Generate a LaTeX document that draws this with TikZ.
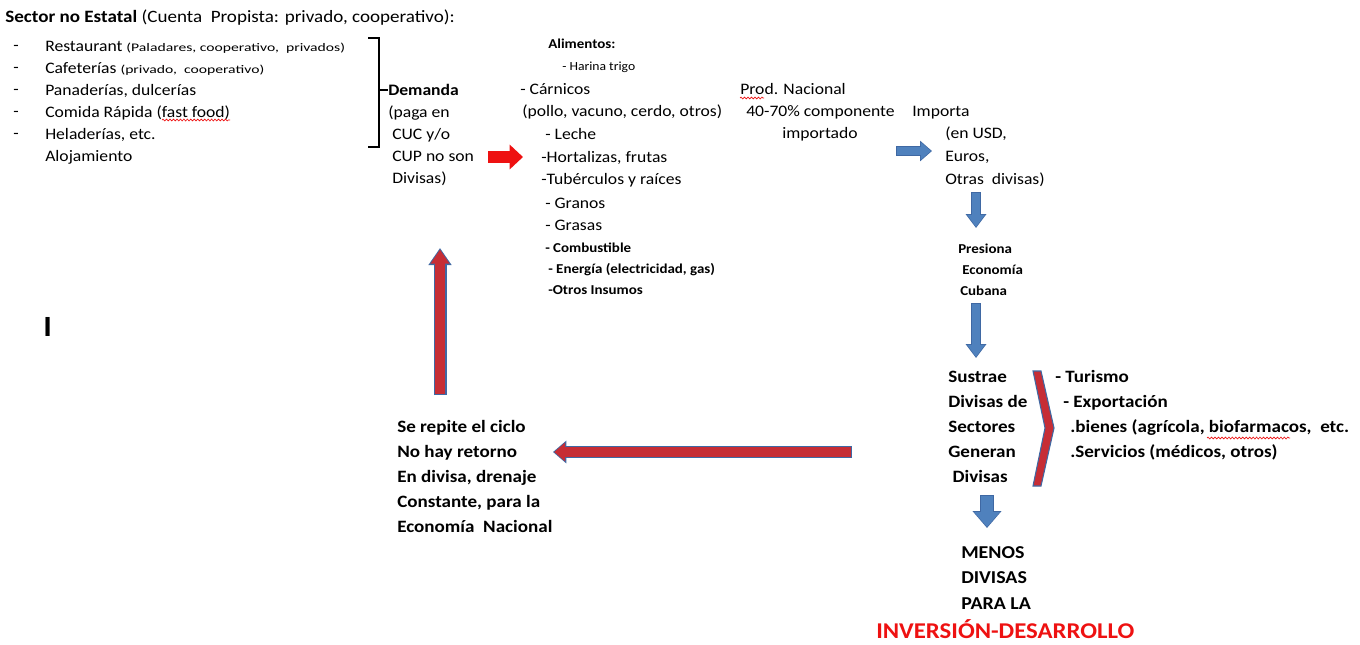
\documentclass[tikz,border=0pt]{standalone}
\usepackage{fontspec}
\setmainfont{Carlito}[FakeStretch=1.1]
\newfontfamily\anchafont{Carlito}[FakeStretch=1.35]
\usetikzlibrary{arrows.meta,decorations.pathmorphing}
\definecolor{rojo}{HTML}{C62D35}
\definecolor{rojovivo}{HTML}{EE1111}
\definecolor{azul}{HTML}{4F81BD}
\definecolor{azulosc}{HTML}{3F68A3}
\newcommand{\letrachica}{\anchafont\fontsize{8.7}{10}\selectfont}
\tikzset{
  txt/.style={anchor=base west, inner sep=0pt, align=left, font=\fontsize{12}{16.5}\selectfont},
  chico/.style={txt, font=\fontsize{9.3}{12}\selectfont},
  chiconeg/.style={txt, font=\fontsize{10.2}{12}\selectfont\bfseries},
  neg/.style={txt, font=\fontsize{13}{18.75}\selectfont\bfseries},
  onda/.style={rojovivo, line width=0.5pt, decorate, decoration={snake, amplitude=0.7pt, segment length=2.6pt}},
}
\begin{document}
\begin{tikzpicture}[x=0.75pt,y=-0.75pt]
\fill[white] (0,0) rectangle (1360,644);
\useasboundingbox (0,0) rectangle (1360,644);
%% sector no estatal
\node[txt, font=\fontsize{13}{15}\selectfont] (titulo) at (5,22) {\textbf{Sector no Estatal} (Cuenta\ \ Propista: privado, cooperativo):};
\foreach \y in {46,68,90,112,134}
  \node[txt] (guion\y) at (13,\y+4) {-};
% base = ultima linea
\node[txt] (lista) at (45,161) {Restaurant {\letrachica (Paladares, cooperativo,\ \ privados)}\\
  Cafeterías {\letrachica (privado,\ \ cooperativo)}\\
  Panaderías, dulcerías\\
  Comida Rápida (fast food)\\
  Heladerías, etc.\\
  Alojamiento};
\draw[onda] (162,120) -- (230,120);
%% llave y demanda
\node[txt] (dem) at (388,183) {\textbf{Demanda}\\(paga en\\\ CUC y/o\\\ CUP no son\\\ Divisas)};
\coordinate (llave) at (379,90);
\draw[line width=1pt] (368,38) -- (379,38) -- (379,147) -- (368,147);
\draw[line width=1pt] (llave) -- (llave -| dem.west);
%% alimentos
\node[chiconeg] (alim1) at (548,48) {Alimentos:};
\node[chico] (alim2) at (562,70) {- Harina trigo};
\foreach \i/\x/\y/\t in {3/520/94/{- Cárnicos},4/522/116/{(pollo, vacuno, cerdo, otros)},5/545/139/{- Leche},
    6/541/162/{-Hortalizas, frutas},7/541/184/{-Tubérculos y raíces},8/545/208/{- Granos},9/545/230/{- Grasas}}
  \node[txt] (alim\i) at (\x,\y) {\t};
\foreach \i/\x/\y/\t in {10/545/252/{- Combustible},11/548/273/{- Energía (electricidad, gas)},12/548/294/{-Otros Insumos}}
  \node[chiconeg] (alim\i) at (\x,\y) {\t};
%% produccion nacional e importacion
\node[txt] (prod1) at (740,94) {Prod. Nacional};
\draw[onda] (740,98) -- (764,98);
\node[txt] (prod2) at (746,116) {40-70\% componente};
\node[txt] (prod3) at (782,138) {importado};
\node[txt] (imp1) at (912,116) {Importa};
\node[txt, font=\fontsize{12}{16.9}\selectfont] (imp2) at (945,184) {(en USD,\\Euros,\\Otras\ \ divisas)};
\node[chiconeg] (pres1) at (958,253) {Presiona};
\node[chiconeg] (pres2) at (962,274) {Economía};
\node[chiconeg] (pres3) at (960,295) {Cubana};
%% sectores que generan divisas
\node[neg] (sus) at (948,482) {Sustrae\\Divisas de\\Sectores\\Generan\\\ Divisas};
\node[neg] (sec1) at (1055,382) {- Turismo};
\node[neg] (sec2) at (1063,407) {- Exportación};
\node[neg] (sec3) at (1070,432) {.bienes (agrícola, biofarmacos,\ \ etc.};
\draw[onda] (1207,438) -- (1290,438);
\node[neg] (sec4) at (1070,457) {.Servicios (médicos, otros)};
\draw[fill=rojo, draw=azulosc, line width=0.8pt] (1033,371) -- (1041,371) -- (1054,428) -- (1041,486) -- (1033,486) -- (1045,428) -- cycle;
\node[txt, font=\fontsize{13.6}{19.1}\selectfont\bfseries] (menos) at (961,609) {MENOS\\DIVISAS\\PARA LA};
\node[txt, font=\fontsize{16.9}{19}\selectfont\bfseries, text=rojovivo] (inv) at (876,638) {INVERSIÓN-DESARROLLO};
%% ciclo
\node[neg] (ciclo) at (397,532) {Se repite el ciclo\\No hay retorno\\En divisa, drenaje\\Constante, para la\\Economía\ \ Nacional};
\node[txt, font=\fontsize{22}{24}\selectfont\bfseries] (cursor) at (43,336) {I};
%% flechas
\coordinate (r1) at (488,157); \coordinate (r2) at (523,157);
\draw[rojovivo, line width=9pt, -{Triangle[width=18pt,length=10pt]}] (r1) -- (r2);
\coordinate (a1) at (896,151); \coordinate (a2) at (932,151);
\draw[azulosc, line width=7.5pt, -{Triangle[width=15pt,length=9pt]}] (a1) -- (a2);
\draw[azul, line width=6pt, -{Triangle[width=12.5pt,length=7.5pt]}, shorten >=0.8pt, shorten <=0.7pt] (a1) -- (a2);
\foreach \n/\ya/\yb in {b1/192/228,b2/303/358}{
  \coordinate (\n a) at (976,\ya); \coordinate (\n b) at (976,\yb);
  \draw[azulosc, line width=7.5pt, -{Triangle[width=15pt,length=10.5pt]}] (\n a) -- (\n b);
  \draw[azul, line width=6pt, -{Triangle[width=12.5pt,length=9pt]}, shorten >=0.8pt, shorten <=0.7pt] (\n a) -- (\n b);
}
\coordinate (b3a) at (987,495); \coordinate (b3b) at (987,528);
\draw[azulosc, line width=10.5pt, -{Triangle[width=21pt,length=12.75pt]}] (b3a) -- (b3b);
\draw[azul, line width=9pt, -{Triangle[width=18.5pt,length=11pt]}, shorten >=0.9pt, shorten <=0.7pt] (b3a) -- (b3b);
\coordinate (l1) at (852,452); \coordinate (l2) at (553,452);
\draw[azulosc, line width=9pt, -{Triangle[width=16.5pt,length=10pt]}] (l1) -- (l2);
\draw[rojo, line width=7pt, -{Triangle[width=13.5pt,length=8pt]}, shorten >=1pt, shorten <=1pt] (l1) -- (l2);
\coordinate (u1) at (440,395); \coordinate (u2) at (440,248);
\draw[azulosc, line width=9.75pt, -{Triangle[width=16.5pt,length=12.75pt]}] (u1) -- (u2);
\draw[rojo, line width=7.75pt, -{Triangle[width=13.5pt,length=10.5pt]}, shorten >=1.2pt, shorten <=1pt] (u1) -- (u2);
\end{tikzpicture}
\end{document}
